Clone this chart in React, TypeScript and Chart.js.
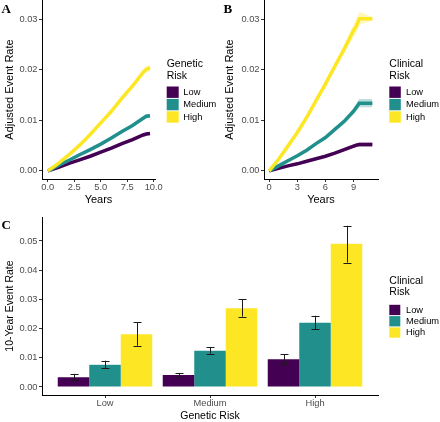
import React, { useEffect, useRef } from "react";
import { Chart, registerables } from "chart.js";

Chart.register(...registerables);

const FONT = '"Liberation Sans", Arial, Helvetica, sans-serif';
const SERIF = '"Liberation Serif", "Times New Roman", serif';
Chart.defaults.font.family = FONT;

const PURPLE = "#440154";
const TEAL = "#21908C";
const YELLOW = "#FDE725";

// ---------- Panel A: by genetic risk ----------
const yearsA = [0, 1, 2, 3, 4, 5, 6, 7, 8, 9, 9.3, 9.65];
const geneticHighA = [0, 0.0015, 0.0032, 0.0051, 0.0072, 0.0095, 0.0118, 0.0144, 0.0168, 0.0195, 0.0201, 0.0204];
const geneticHighA_lo = [0, 0.0014, 0.003, 0.0049, 0.0069, 0.0092, 0.0114, 0.014, 0.0163, 0.0189, 0.0195, 0.0197];
const geneticHighA_hi = [0, 0.0016, 0.0034, 0.0053, 0.0075, 0.0098, 0.0122, 0.0148, 0.0173, 0.0201, 0.0207, 0.0211];
const geneticMedA = [0, 0.0011, 0.0021, 0.0032, 0.0042, 0.0053, 0.0065, 0.0078, 0.009, 0.0104, 0.0108, 0.0109];
const geneticMedA_lo = [0, 0.001, 0.002, 0.0031, 0.004, 0.0051, 0.0063, 0.0075, 0.0087, 0.01, 0.0104, 0.0105];
const geneticMedA_hi = [0, 0.0012, 0.0022, 0.0033, 0.0044, 0.0055, 0.0067, 0.0081, 0.0093, 0.0108, 0.0112, 0.0113];
const geneticLowA = [0, 0.0007, 0.0015, 0.0022, 0.0029, 0.0037, 0.0045, 0.0054, 0.0062, 0.0071, 0.0073, 0.0074];
const geneticLowA_lo = [0, 0.0006, 0.0014, 0.0021, 0.0028, 0.0035, 0.0043, 0.0052, 0.0059, 0.0068, 0.007, 0.0071];
const geneticLowA_hi = [0, 0.0008, 0.0016, 0.0023, 0.003, 0.0039, 0.0047, 0.0056, 0.0065, 0.0074, 0.0076, 0.0077];

// ---------- Panel B: by clinical risk ----------
const yearsB = [0, 1, 2, 3, 4, 5, 6, 7, 8, 9, 9.3, 9.6, 11];
const clinicalHighB = [0, 0.0023, 0.0049, 0.0076, 0.0106, 0.0139, 0.0172, 0.0207, 0.0241, 0.0278, 0.0286, 0.0301, 0.0301];
const clinicalHighB_lo = [0, 0.0021, 0.0046, 0.0072, 0.0101, 0.0133, 0.0165, 0.0199, 0.0232, 0.0266, 0.0272, 0.0289, 0.0297];
const clinicalHighB_hi = [0, 0.0025, 0.0052, 0.008, 0.0111, 0.0145, 0.0179, 0.0215, 0.025, 0.029, 0.03, 0.0315, 0.0305];
const clinicalMedB = [0, 0.001, 0.002, 0.003, 0.0041, 0.0054, 0.0066, 0.0082, 0.0098, 0.0118, 0.0126, 0.0134, 0.0134];
const clinicalMedB_lo = [0, 0.0009, 0.0019, 0.0028, 0.0039, 0.0051, 0.0063, 0.0078, 0.0093, 0.0112, 0.0119, 0.0126, 0.0126];
const clinicalMedB_hi = [0, 0.0011, 0.0021, 0.0032, 0.0043, 0.0057, 0.0069, 0.0086, 0.0103, 0.0124, 0.0133, 0.0142, 0.0142];
const clinicalLowB = [0, 0.0005, 0.001, 0.0014, 0.0019, 0.0024, 0.0029, 0.0035, 0.0042, 0.0049, 0.0051, 0.0052, 0.0052];
const clinicalLowB_lo = [0, 0.0004, 0.0009, 0.0013, 0.0018, 0.0022, 0.0027, 0.0033, 0.0039, 0.0046, 0.0047, 0.0048, 0.0048];
const clinicalLowB_hi = [0, 0.0006, 0.0011, 0.0015, 0.002, 0.0026, 0.0031, 0.0037, 0.0045, 0.0052, 0.0055, 0.0056, 0.0056];

// ---------- Panel C: 10-year event rate ----------
const geneticCategories = ["Low", "Medium", "High"];
const geneticPositions = [1, 2, 3];
const riskLabels = ["Low", "Medium", "High"];
const rateLowClinical = [0.0033, 0.0041, 0.0095];
const rateLowClinical_lo = [0.0024, 0.0034, 0.0079];
const rateLowClinical_hi = [0.0045, 0.0048, 0.0112];
const rateMedClinical = [0.0076, 0.0124, 0.022];
const rateMedClinical_lo = [0.0064, 0.0114, 0.0198];
const rateMedClinical_hi = [0.009, 0.0137, 0.0244];
const rateHighClinical = [0.0181, 0.027, 0.049];
const rateHighClinical_lo = [0.0141, 0.0241, 0.0426];
const rateHighClinical_hi = [0.0222, 0.03, 0.0552];

// ---------- tick values ----------
const yTicksAB = [0, 0.01, 0.02, 0.03];
const xTicksA = [0, 2.5, 5, 7.5, 10];
const xTicksB = [0, 3, 6, 9];
const yTicksC = [0, 0.01, 0.02, 0.03, 0.04, 0.05];

const pts = (xs: number[], ys: number[]) => xs.map((x, i) => ({ x, y: ys[i] }));

function hexA(hex: string, a: number) {
  const n = parseInt(hex.slice(1), 16);
  return `rgba(${(n >> 16) & 255},${(n >> 8) & 255},${n & 255},${a})`;
}

const decorPlugin = {
  id: "decor",
  afterDraw(chart: any, _args: any, o: any) {
    if (!o || !o.items) return;
    const ctx = chart.ctx;
    ctx.save();
    ctx.textAlign = "left";
    ctx.textBaseline = "middle";
    ctx.fillStyle = "#000";
    ctx.font = `${o.titleSize}px ${FONT}`;
    o.title.forEach((t: string, i: number) => ctx.fillText(t, o.x, o.titleY + i * o.titleLine));
    o.items.forEach((it: any, i: number) => {
      const y = o.boxY + i * o.boxH;
      ctx.fillStyle = it.color;
      ctx.fillRect(o.x, y + 0.5, o.boxW, o.boxH - 1);
      ctx.fillStyle = "#000";
      ctx.font = `${o.labelSize}px ${FONT}`;
      ctx.fillText(it.label, o.x + o.labelDx, y + o.boxH / 2);
    });
    ctx.font = `bold 13px ${SERIF}`;
    ctx.textBaseline = "alphabetic";
    ctx.fillText(o.letter, o.letterX, o.letterY);
    ctx.restore();
  },
};

const errorBarPlugin = {
  id: "errorBars",
  afterDatasetsDraw(chart: any, _args: any, o: any) {
    if (!o || !o.lower) return;
    const ctx = chart.ctx;
    const ys = chart.scales.y;
    ctx.save();
    ctx.strokeStyle = "#1a1a1a";
    ctx.lineWidth = 1;
    chart.data.datasets.forEach((_ds: any, i: number) => {
      const meta = chart.getDatasetMeta(i);
      meta.data.forEach((bar: any, j: number) => {
        const yl = ys.getPixelForValue(o.lower[i][j]);
        const yh = ys.getPixelForValue(o.upper[i][j]);
        const x = Math.round(bar.x) + 0.5;
        const w = 4;
        ctx.beginPath();
        ctx.moveTo(x, yl);
        ctx.lineTo(x, yh);
        ctx.moveTo(x - w, Math.round(yl) + 0.5);
        ctx.lineTo(x + w, Math.round(yl) + 0.5);
        ctx.moveTo(x - w, Math.round(yh) + 0.5);
        ctx.lineTo(x + w, Math.round(yh) + 0.5);
        ctx.stroke();
      });
    });
    ctx.restore();
  },
};

function gridOpts() {
  return {
    display: true,
    drawOnChartArea: false,
    drawTicks: true,
    tickLength: 3,
    offset: false,
    color: "#333333",
    tickColor: "#333333",
  };
}

function yAxis(min: number, max: number, ticks: number[], title: string, width: number, titleSize: number) {
  return {
    type: "linear",
    min,
    max,
    afterBuildTicks: (s: any) => {
      s.ticks = ticks.map((v) => ({ value: v }));
    },
    afterFit: (s: any) => {
      s.width = width;
      s.paddingTop = 0;
      s.paddingBottom = 0;
    },
    grid: gridOpts(),
    border: { display: true, color: "#000", width: 1 },
    ticks: {
      color: "#4D4D4D",
      font: { family: FONT, size: 9.3 },
      padding: 1.5,
      autoSkip: false,
      callback: (v: any) => Number(v).toFixed(2),
    },
    title: {
      display: true,
      text: title,
      color: "#000",
      font: { family: FONT, size: titleSize },
      padding: { top: 10 - titleSize * 0.6, bottom: 0 },
    },
  };
}

function xAxis(min: number, max: number, ticks: number[], title: string, height: number, titleSize: number, pb: number, fmt: (v: number) => string) {
  return {
    type: "linear",
    min,
    max,
    offset: false,
    afterBuildTicks: (s: any) => {
      s.ticks = ticks.map((v) => ({ value: v }));
    },
    afterFit: (s: any) => {
      s.height = height;
      s.paddingLeft = 0;
      s.paddingRight = 0;
    },
    grid: gridOpts(),
    border: { display: true, color: "#000", width: 1 },
    ticks: {
      color: "#4D4D4D",
      font: { family: FONT, size: 9.3 },
      padding: 0,
      autoSkip: false,
      maxRotation: 0,
      callback: (v: any) => fmt(Number(v)),
    },
    title: {
      display: true,
      text: title,
      color: "#000",
      font: { family: FONT, size: titleSize },
      padding: { top: 0, bottom: pb },
    },
  };
}

function seriesSets(xs: number[], mid: number[], lo: number[], hi: number[], color: string, label: string, order: number) {
  return [
    {
      label: label + " upper",
      data: pts(xs, hi),
      borderWidth: 0,
      pointRadius: 0,
      fill: "+1",
      backgroundColor: hexA(color, 0.3),
      borderColor: "transparent",
      order: 10,
    },
    {
      label: label + " lower",
      data: pts(xs, lo),
      borderWidth: 0,
      pointRadius: 0,
      fill: false,
      borderColor: "transparent",
      order: 10,
    },
    {
      label,
      data: pts(xs, mid),
      borderColor: color,
      borderWidth: 3.5,
      pointRadius: 0,
      tension: 0,
      fill: false,
      order,
    },
  ];
}

const legendItems = [
  { label: riskLabels[0], color: PURPLE },
  { label: riskLabels[1], color: TEAL },
  { label: riskLabels[2], color: YELLOW },
];

function configA(): any {
  return {
    type: "line",
    data: {
      datasets: [
        ...seriesSets(yearsA, geneticLowA, geneticLowA_lo, geneticLowA_hi, PURPLE, "Low", 3),
        ...seriesSets(yearsA, geneticMedA, geneticMedA_lo, geneticMedA_hi, TEAL, "Medium", 2),
        ...seriesSets(yearsA, geneticHighA, geneticHighA_lo, geneticHighA_hi, YELLOW, "High", 1),
      ],
    },
    options: {
      responsive: false,
      animation: false,
      devicePixelRatio: 1,
      layout: { padding: { left: 0, top: 0, right: 65, bottom: 0 } },
      scales: {
        x: xAxis(-0.55, 10.12, xTicksA, "Years", 31, 11, 3.4, (v) => v.toFixed(1)),
        y: yAxis(-0.0016, 0.0338, yTicksAB, "Adjusted Event Rate", 42, 11),
      },
      plugins: {
        legend: { display: false },
        tooltip: { enabled: false },
        decor: {
          x: 166.7,
          title: ["Genetic", "Risk"],
          titleY: 64,
          titleLine: 12.5,
          titleSize: 10.5,
          boxY: 86,
          boxW: 12,
          boxH: 12.4,
          labelDx: 16.6,
          labelSize: 9.3,
          items: legendItems,
          letter: "A",
          letterX: 1.5,
          letterY: 12.5,
        },
      },
    },
    plugins: [decorPlugin],
  };
}

function configB(): any {
  return {
    type: "line",
    data: {
      datasets: [
        ...seriesSets(yearsB, clinicalLowB, clinicalLowB_lo, clinicalLowB_hi, PURPLE, "Low", 3),
        ...seriesSets(yearsB, clinicalMedB, clinicalMedB_lo, clinicalMedB_hi, TEAL, "Medium", 2),
        ...seriesSets(yearsB, clinicalHighB, clinicalHighB_lo, clinicalHighB_hi, YELLOW, "High", 1),
      ],
    },
    options: {
      responsive: false,
      animation: false,
      devicePixelRatio: 1,
      layout: { padding: { left: 0, top: 0, right: 62, bottom: 0 } },
      scales: {
        x: xAxis(-0.55, 11.6, xTicksB, "Years", 31, 11, 3.4, (v) => String(Math.round(v))),
        y: yAxis(-0.0016, 0.0338, yTicksAB, "Adjusted Event Rate", 44, 11),
      },
      plugins: {
        legend: { display: false },
        tooltip: { enabled: false },
        decor: {
          x: 169.3,
          title: ["Clinical", "Risk"],
          titleY: 64,
          titleLine: 12.5,
          titleSize: 10.5,
          boxY: 86,
          boxW: 11.5,
          boxH: 12.4,
          labelDx: 16.7,
          labelSize: 9.3,
          items: legendItems,
          letter: "B",
          letterX: 3.5,
          letterY: 12.5,
        },
      },
    },
    plugins: [decorPlugin],
  };
}

function barData(vals: number[]) {
  return geneticPositions.map((x, i) => ({ x, y: vals[i] }));
}

function configC(): any {
  return {
    type: "bar",
    data: {
      datasets: [
        { label: riskLabels[0], data: barData(rateLowClinical), backgroundColor: PURPLE, borderWidth: 0 },
        { label: riskLabels[1], data: barData(rateMedClinical), backgroundColor: TEAL, borderWidth: 0 },
        { label: riskLabels[2], data: barData(rateHighClinical), backgroundColor: YELLOW, borderWidth: 0 },
      ],
    },
    options: {
      responsive: false,
      animation: false,
      devicePixelRatio: 1,
      categoryPercentage: 0.9,
      barPercentage: 1,
      layout: { padding: { left: 0, top: 7, right: 62, bottom: 0 } },
      scales: {
        x: {
          ...xAxis(0.4, 3.6, geneticPositions, "Genetic Risk", 27, 10.5, 0, (v) => geneticCategories[Math.round(v) - 1] ?? ""),
        },
        y: yAxis(-0.00274, 0.0582, yTicksC, "10-Year Event Rate", 42, 10.5),
      },
      plugins: {
        legend: { display: false },
        tooltip: { enabled: false },
        errorBars: {
          lower: [rateLowClinical_lo, rateMedClinical_lo, rateHighClinical_lo],
          upper: [rateLowClinical_hi, rateMedClinical_hi, rateHighClinical_hi],
        },
        decor: {
          x: 389.3,
          title: ["Clinical", "Risk"],
          titleY: 70.7,
          titleLine: 11,
          titleSize: 10.5,
          boxY: 94.3,
          boxW: 11,
          boxH: 11.3,
          labelDx: 16.7,
          labelSize: 9.3,
          items: legendItems,
          letter: "C",
          letterX: 1.5,
          letterY: 18.5,
        },
      },
    },
    plugins: [errorBarPlugin, decorPlugin],
  };
}

function ChartCanvas(props: { make: () => any; left: number; top: number; width: number; height: number }) {
  const ref = useRef<HTMLCanvasElement>(null);
  useEffect(() => {
    const chart = new Chart(ref.current as HTMLCanvasElement, props.make());
    return () => chart.destroy();
  }, []);
  return (
    <canvas
      ref={ref}
      width={props.width}
      height={props.height}
      style={{ position: "absolute", left: props.left, top: props.top, width: props.width, height: props.height, display: "block" }}
    />
  );
}

export default function App() {
  return (
    <div style={{ position: "absolute", left: 0, top: 0, width: 440, height: 422, background: "#fff", overflow: "hidden" }}>
      <ChartCanvas make={configA} left={0} top={0} width={220} height={210} />
      <ChartCanvas make={configB} left={220} top={0} width={220} height={210} />
      <ChartCanvas make={configC} left={0} top={210} width={440} height={212} />
    </div>
  );
}
